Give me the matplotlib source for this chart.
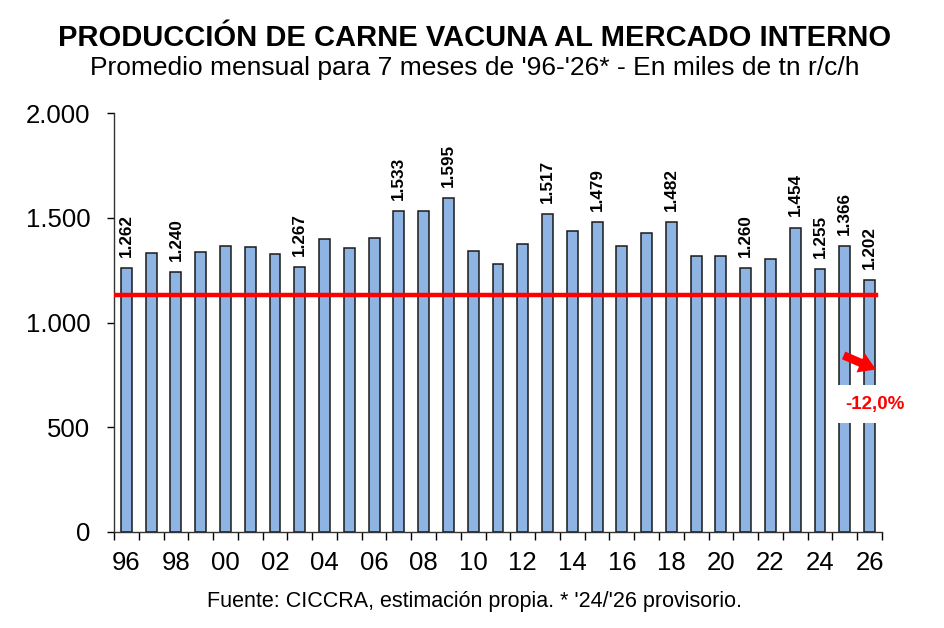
import matplotlib
matplotlib.use("Agg")
import matplotlib.pyplot as plt
import numpy as np
from matplotlib.ticker import FuncFormatter

plt.rcParams['font.family'] = ['Liberation Sans', 'DejaVu Sans']

years = ['96', '97', '98', '99', '00', '01', '02', '03', '04', '05', '06',
         '07', '08', '09', '10', '11', '12', '13', '14', '15', '16', '17',
         '18', '19', '20', '21', '22', '23', '24', '25', '26']
values = [1262, 1332, 1240, 1337, 1365, 1361, 1327, 1267, 1399, 1356, 1402,
          1533, 1535, 1595, 1340, 1279, 1375, 1517, 1437, 1479, 1364, 1426,
          1482, 1317, 1316, 1260, 1303, 1454, 1255, 1366, 1202]
labeled = ['96', '98', '03', '07', '09', '13', '15', '18', '21', '23', '24', '25', '26']
avg_line = 1133

fig = plt.figure(figsize=(9.45, 6.28), dpi=100)
ax = fig.add_axes([0.1206, 0.1533, 0.8127, 0.6663])

x = np.arange(len(years))
ax.bar(x, values, width=0.44, color='#8DB4E2', edgecolor='#1a1a1a', linewidth=1.1, zorder=2)

for i, (yr, v) in enumerate(zip(years, values)):
    if yr in labeled:
        lbl = f"{v:,}".replace(',', '.')
        ax.annotate(lbl, (i, v), xytext=(0, 8), textcoords='offset points',
                    rotation=90, ha='center', va='bottom', fontsize=12.3,
                    fontweight='bold', zorder=4)

# linea promedio
ax.plot([-0.5, len(years) - 1 + 0.25], [avg_line, avg_line], color='#FF0000', lw=3.2, zorder=3)

ax.set_xlim(-0.5, len(years) - 0.5)
ax.set_ylim(0, 2000)
ax.set_yticks([0, 500, 1000, 1500, 2000])
ax.yaxis.set_major_formatter(FuncFormatter(lambda v, p: f"{int(v):,}".replace(',', '.')))
ax.tick_params(axis='y', labelsize=18.5, length=5, width=1, pad=12)

even = [i for i, yr in enumerate(years) if int(yr) % 2 == 0]
ax.set_xticks(even)
ax.set_xticklabels([years[i] for i in even])
ax.tick_params(axis='x', which='major', length=0, labelsize=18.5, pad=14)
ax.set_xticks(np.arange(-0.5, len(years)), minor=True)
ax.tick_params(axis='x', which='minor', length=6, width=1)

for s in ['top', 'right']:
    ax.spines[s].set_visible(False)
for s in ['left', 'bottom']:
    ax.spines[s].set_color('#333333')
    ax.spines[s].set_linewidth(1)

# variacion interanual
var = (values[-1] / values[-2] - 1) * 100
n = len(years) - 1
ax.annotate('', xy=(n + 0.36, 770), xytext=(n - 1.15, 848),
            arrowprops=dict(arrowstyle='simple,head_width=1.5,head_length=1.2,tail_width=0.6',
                            color='#FF0000', lw=0), zorder=6)
ax.text(n + 0.22, 610, f"{var:.1f}%".replace('.', ','), ha='center', va='center',
        fontsize=13.5, fontweight='bold', color='#FF0000', zorder=5,
        bbox=dict(boxstyle='square,pad=0.55', fc='white', ec='none'))

fig.text(0.502, 0.939, 'PRODUCCIÓN DE CARNE VACUNA AL MERCADO INTERNO',
         ha='center', va='center', fontsize=21, fontweight='bold')
fig.text(0.502, 0.892, "Promedio mensual para 7 meses de '96-'26* - En miles de tn r/c/h",
         ha='center', va='center', fontsize=19)
fig.text(0.502, 0.042, "Fuente: CICCRA, estimación propia. * '24/'26 provisorio.",
         ha='center', va='center', fontsize=15.5)

fig.savefig('out.png', dpi=100)
